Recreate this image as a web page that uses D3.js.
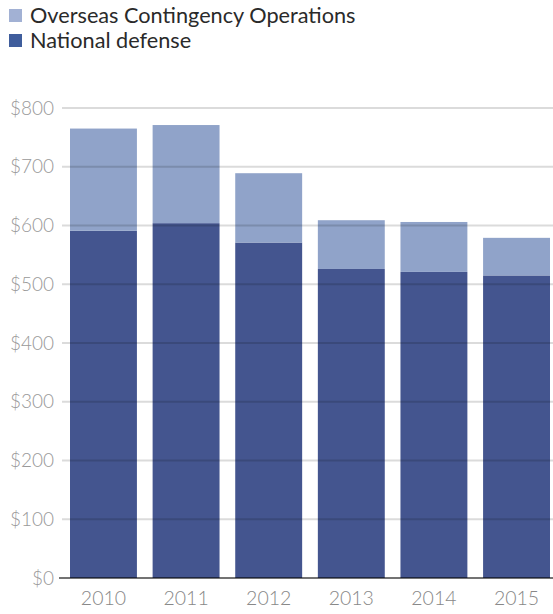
<!DOCTYPE html>
<html lang="en">
<head>
<meta charset="UTF-8"/>
<title>Defense spending</title>
<script src="https://d3js.org/d3.v7.min.js"></script>
<style>
  body { margin: 0; background: #fff; font-family: Lato, "Open Sans", sans-serif; }
  .tick text { font-weight: 300; }
</style>
</head>
<body>
<div id="chart"></div>
<script>
// data (billions of dollars)
var years = ["2010", "2011", "2012", "2013", "2014", "2015"];
var nationalDefense = [591, 604, 571, 526, 521, 515];
var overseasOps = [174, 167, 118, 83, 85, 64];
var yTicks = [0, 100, 200, 300, 400, 500, 600, 700, 800];
var seriesNames = ["Overseas Contingency Operations", "National defense"];

var w = 553, h = 614;
var svg = d3.select("#chart").append("svg")
    .attr("width", w)
    .attr("height", h);

var xScale = d3.scaleBand()
    .domain(years)
    .range([70, 550])
    .paddingInner(0.19)
    .paddingOuter(0);

var yScale = d3.scaleLinear()
    .domain([0, 800])
    .range([578, 108]);

// legend
var legendColors = ["#a2b1d4", "#3f5d9c"];
seriesNames.forEach(function(name, i) {
  svg.append("rect")
    .attr("x", 9).attr("y", 9 + i * 25)
    .attr("width", 13).attr("height", 13)
    .attr("fill", legendColors[i]);
  svg.append("text")
    .attr("x", 30).attr("y", 23 + i * 25)
    .attr("font-size", 21.7)
    .attr("fill", "#2a2a2a")
    .text(name);
});

// bars
var rows = years.map(function(y, i) {
  return { year: y, nd: nationalDefense[i], oco: overseasOps[i] };
});

svg.selectAll("rect.nd").data(rows).enter().append("rect")
  .attr("class", "nd")
  .attr("x", function(d) { return xScale(d.year); })
  .attr("y", function(d) { return yScale(d.nd); })
  .attr("width", xScale.bandwidth())
  .attr("height", function(d) { return yScale(0) - yScale(d.nd); })
  .attr("fill", "#44558f");

svg.selectAll("rect.oco").data(rows).enter().append("rect")
  .attr("class", "oco")
  .attr("x", function(d) { return xScale(d.year); })
  .attr("y", function(d) { return yScale(d.nd + d.oco); })
  .attr("width", xScale.bandwidth())
  .attr("height", function(d) { return yScale(d.nd) - yScale(d.nd + d.oco); })
  .attr("fill", "#90a3c9");

// gridlines drawn on top, semi transparent
var yAxis = d3.axisLeft(yScale)
    .tickValues(yTicks)
    .tickSize(0)
    .tickPadding(8)
    .tickFormat(function(d) { return "$" + d; });

svg.selectAll("line.grid").data(yTicks.filter(function(d) { return d > 0; }))
  .enter().append("line")
  .attr("class", "grid")
  .attr("x1", 62).attr("x2", w)
  .attr("y1", function(d) { return yScale(d); })
  .attr("y2", function(d) { return yScale(d); })
  .attr("stroke", "rgba(0,0,0,0.14)")
  .attr("stroke-width", 2);

svg.append("line")
  .attr("x1", 59).attr("x2", w)
  .attr("y1", yScale(0)).attr("y2", yScale(0))
  .attr("stroke", "rgba(0,0,0,0.55)")
  .attr("stroke-width", 2);

var gy = svg.append("g")
  .attr("transform", "translate(62,0)")
  .call(yAxis);
gy.select(".domain").remove();
gy.selectAll("text")
  .attr("font-family", "Lato, sans-serif")
  .attr("font-size", 19)
  .attr("fill", "#999");

var xAxis = d3.axisBottom(xScale).tickSize(0).tickPadding(13);
var gx = svg.append("g")
  .attr("transform", "translate(0," + yScale(0) + ")")
  .call(xAxis);
gx.select(".domain").remove();
gx.selectAll("text")
  .attr("font-family", "Lato, sans-serif")
  .attr("font-size", 19.5)
  .attr("fill", "#888");
</script>
</body>
</html>
